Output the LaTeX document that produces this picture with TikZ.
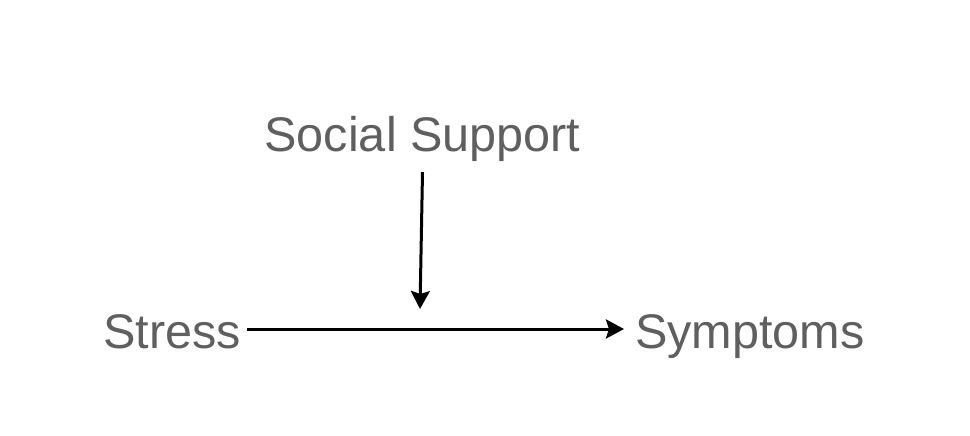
\documentclass[tikz,border=0pt]{standalone}
\usepackage{fontspec}
\setmainfont{Liberation Sans}
\usetikzlibrary{arrows.meta}
\definecolor{txtgray}{HTML}{5F5F5F}
\tikzset{
  lbl/.style={text=txtgray, font=\fontsize{48.6pt}{56pt}\selectfont, text height=38pt, text depth=0pt, inner ysep=0pt},
  arr/.style={line width=3pt, -{Stealth[length=18pt,width=19pt,inset=3pt]}}
}
\begin{document}
\begin{tikzpicture}[x=1pt,y=-1pt]
\useasboundingbox (0,0) rectangle (970,436);
\node[lbl, anchor=base west, inner xsep=6pt] (stress) at (97,348) {Stress};
\node[lbl, anchor=base west, inner xsep=11pt] (symp) at (624,348) {Symptoms};
\node[lbl, anchor=base, inner xsep=0pt, inner ysep=0pt, text depth=21pt] (social) at (422.5,151) {Social Support};
\coordinate (mod) at (420,309);
\draw[arr] (stress.east) -- (symp.west);
\draw[arr] (social.south) -- (mod);
\end{tikzpicture}
\end{document}
